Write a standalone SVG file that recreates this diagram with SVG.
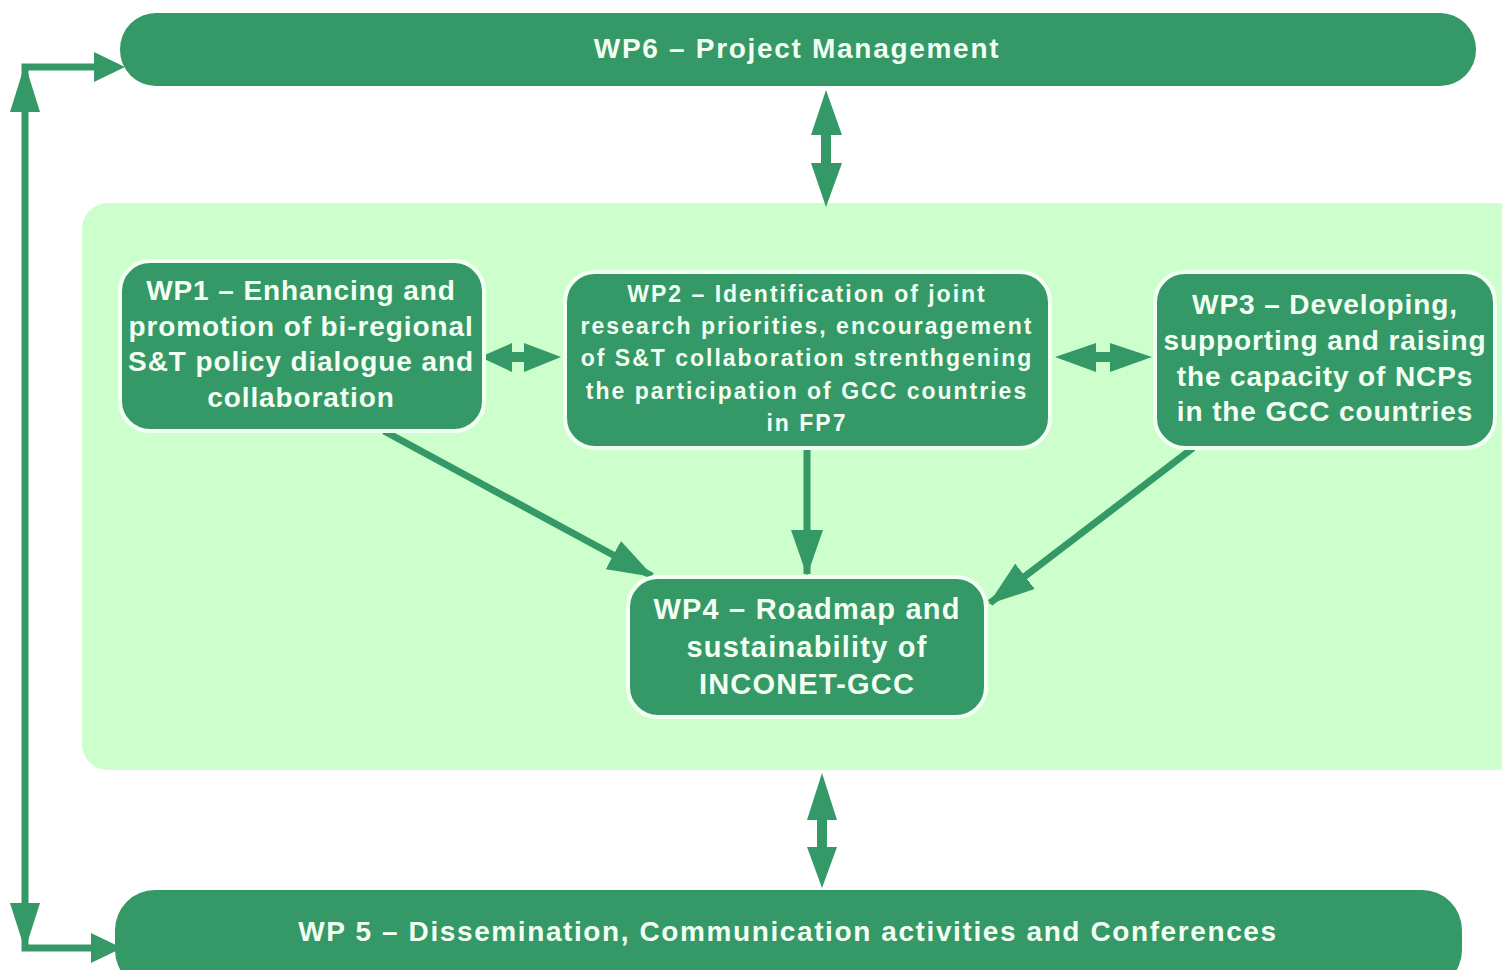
<svg xmlns="http://www.w3.org/2000/svg" width="1502" height="970" viewBox="0 0 1502 970">
<style>
.bar{fill:#349966}
.box{fill:#349966;stroke:#f4fff4;stroke-width:4}
.t{font-family:"Liberation Sans",Arial,sans-serif;font-weight:bold;fill:#f2fff2;text-anchor:middle}
.ln{stroke:#349966;stroke-width:7;fill:none}
.hd{fill:#349966}
</style>
<defs>
<marker id="ah" markerUnits="userSpaceOnUse" markerWidth="46" markerHeight="32" refX="44" refY="16" orient="auto">
<path d="M0,0 L46,16 L0,32 Z" fill="#349966"/>
</marker>
</defs>
<rect width="1502" height="970" fill="#ffffff"/>
<rect id="panel" x="82" y="203" width="1440" height="567" rx="26" fill="#ccffcc"/>

<g id="wp6">
<rect class="bar" x="120" y="13" width="1356" height="73" rx="36"/>
<text class="t" x="797" y="58" font-size="28" letter-spacing="1.7">WP6 – Project Management</text>
</g>
<g id="wp5">
<rect class="bar" x="115" y="890" width="1347" height="100" rx="40"/>
<text class="t" x="788" y="941" font-size="28" letter-spacing="1.6">WP 5 – Dissemination, Communication activities and Conferences</text>
</g>

<g id="connectors">
<polyline class="ln" points="95,67 25,67 25,948 92,948"/>
<path class="hd" d="M25,64 L40,112 L10,112 Z"/>
<path class="hd" d="M25,950 L40,903 L10,903 Z"/>
<path class="hd" d="M125,67 L94,52 L94,82 Z"/>
<path class="hd" d="M122,948 L91,933 L91,963 Z"/>
<rect class="hd" x="821" y="130" width="10" height="38"/>
<path class="hd" d="M826,90 L842,135 L811,135 Z"/>
<path class="hd" d="M826,207 L842,163 L811,163 Z"/>
<rect class="hd" x="817" y="815" width="10" height="37"/>
<path class="hd" d="M822,773 L837,820 L807,820 Z"/>
<path class="hd" d="M822,888 L837,847 L807,847 Z"/>
<rect class="hd" x="505" y="352" width="25" height="10"/>
<path class="hd" d="M480,357 L512,343 L512,372 Z"/>
<path class="hd" d="M561,357 L524,343 L524,372 Z"/>
<rect class="hd" x="1090" y="352" width="25" height="10"/>
<path class="hd" d="M1055,357 L1096,343 L1096,372 Z"/>
<path class="hd" d="M1152,357 L1110,343 L1110,372 Z"/>
<line class="ln" x1="384" y1="431" x2="652" y2="576" marker-end="url(#ah)"/>
<line class="ln" x1="807" y1="448" x2="807" y2="574" marker-end="url(#ah)"/>
<line class="ln" x1="1193" y1="448" x2="990" y2="603" marker-end="url(#ah)"/>
</g>

<g id="wp1">
<rect class="box" x="120" y="261" width="364" height="170" rx="30"/>
<text class="t" font-size="28" letter-spacing="0.9"><tspan x="301" y="300">WP1 – Enhancing and</tspan><tspan x="301" y="336">promotion of bi-regional</tspan><tspan x="301" y="371">S&amp;T policy dialogue and</tspan><tspan x="301" y="407">collaboration</tspan></text>
</g>
<g id="wp2">
<rect class="box" x="565" y="272" width="485" height="176" rx="30"/>
<text class="t" font-size="23" letter-spacing="2"><tspan x="807" y="302">WP2 – Identification of joint</tspan><tspan x="807" y="334">research priorities, encouragement</tspan><tspan x="807" y="366">of S&amp;T collaboration strenthgening</tspan><tspan x="807" y="399">the participation of GCC countries</tspan><tspan x="807" y="431">in FP7</tspan></text>
</g>
<g id="wp3">
<rect class="box" x="1155" y="272" width="340" height="176" rx="30"/>
<text class="t" font-size="28" letter-spacing="0.9"><tspan x="1325" y="314">WP3 – Developing,</tspan><tspan x="1325" y="350">supporting and raising</tspan><tspan x="1325" y="386">the capacity of NCPs</tspan><tspan x="1325" y="421">in the GCC countries</tspan></text>
</g>
<g id="wp4">
<rect class="box" x="628" y="577" width="358" height="140" rx="30"/>
<text class="t" font-size="29" letter-spacing="1.2"><tspan x="807" y="619">WP4 – Roadmap and</tspan><tspan x="807" y="657">sustainability of</tspan><tspan x="807" y="694">INCONET-GCC</tspan></text>
</g>
</svg>
